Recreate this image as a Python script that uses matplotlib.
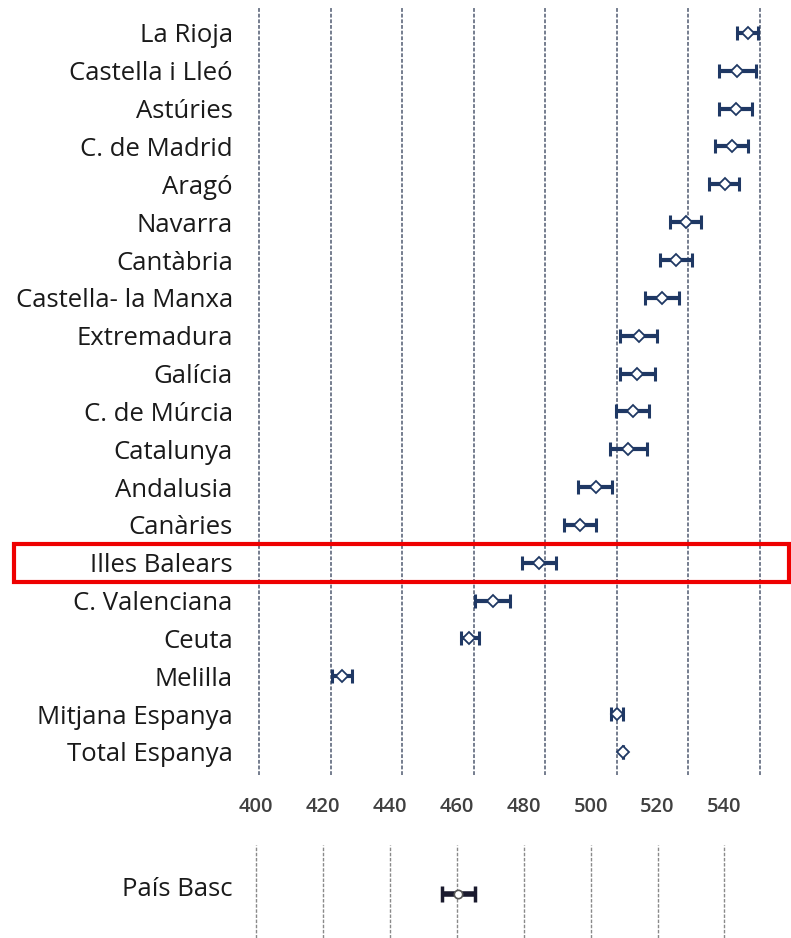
import matplotlib
matplotlib.use("Agg")
import matplotlib.pyplot as plt
from matplotlib.patches import Rectangle
from matplotlib.transforms import blended_transform_factory

regions = ["La Rioja", "Castella i Lleó", "Astúries", "C. de Madrid", "Aragó",
           "Navarra", "Cantàbria", "Castella- la Manxa", "Extremadura", "Galícia",
           "C. de Múrcia", "Catalunya", "Andalusia", "Canàries", "Illes Balears",
           "C. Valenciana", "Ceuta", "Melilla", "Mitjana Espanya", "Total Espanya"]
means = [536.7, 533.6, 533.3, 532.1, 530.1, 519.3, 516.5, 512.6, 506.2, 505.7,
         504.6, 503.2, 494.1, 489.7, 478.2, 465.3, 458.8, 423.1, 500.1, 501.8]
lower = [533.5, 528.5, 528.5, 527.4, 525.7, 514.9, 512.2, 507.8, 500.9, 500.9,
         499.9, 498.1, 489.2, 485.2, 473.4, 460.4, 456.4, 420.3, 498.5, 501.8]
upper = [539.5, 538.8, 537.8, 536.7, 534.2, 523.4, 520.9, 517.4, 511.3, 510.8,
         509.0, 508.5, 498.7, 494.2, 483.0, 470.1, 461.5, 426.1, 501.8, 501.8]
highlight = "Illes Balears"

basc_label = ["País Basc"]
basc_mean = [460.3]
basc_lower = [455.5]
basc_upper = [465.3]

xticks = [400, 420, 440, 460, 480, 500, 520, 540]

W, H = 791, 938
fig = plt.figure(figsize=(W / 100, H / 100), dpi=100)

def px_axes(left, top, right, bottom):
    return fig.add_axes([left / W, 1 - bottom / H, (right - left) / W, (bottom - top) / H])

navy = "#1f3864"
label_font = ["Open Sans", "DejaVu Sans"]
label_size = 18.5

# ---- main panel
ax = px_axes(237, 8, 790, 775)
ax.set_xlim(393.85, 548.4)
ax.set_ylim(19.61, -0.66)
ys = list(range(len(regions)))
for x in xticks:
    ax.axvline(x, color="#4f5a70", lw=1.1, ls=(0, (2.5, 1.2)), zorder=1)
xerr = [[m - l for m, l in zip(means, lower)], [u - m for m, u in zip(means, upper)]]
ax.errorbar(means, ys, xerr=xerr, fmt="none", ecolor=navy, elinewidth=3.0,
            capsize=5, capthick=2.2, zorder=2)
ax.plot(means, ys, ls="none", marker="D", ms=6, mfc="white", mec=navy, mew=1.3, zorder=3)
ax.set_yticks(ys)
ax.set_yticklabels(regions, fontsize=label_size, family=label_font, color="#1a1a1a",
                   fontweight="normal")
ax.tick_params(axis="y", length=0, pad=3)
ax.set_xticks([])
for s in ax.spines.values():
    s.set_visible(False)

hi = regions.index(highlight)
tr = blended_transform_factory(fig.transFigure, ax.transData)
fig.patches.append(Rectangle((14 / W, hi - 0.5), (789 - 14) / W, 1.0, transform=tr,
                             fill=False, ec="#ee0000", lw=3, zorder=10))

# ---- bottom panel
bx = px_axes(237, 845, 790, 938)
bx.set_xlim(394.3, 559.6)
bx.set_ylim(1, -1)
for x in xticks:
    bx.axvline(x, color="#8a8a8a", lw=1.0, ls=(0, (2.5, 1.2)), zorder=1)
berr = [[m - l for m, l in zip(basc_mean, basc_lower)], [u - m for m, u in zip(basc_mean, basc_upper)]]
bx.errorbar(basc_mean, [0.05], xerr=berr, fmt="none", ecolor="#1a1a2e", elinewidth=4,
            capsize=6, capthick=2.5, zorder=2)
bx.plot(basc_mean, [0.05], ls="none", marker="o", ms=6, mfc="white", mec="#555555", mew=1.2, zorder=3)
bx.set_yticks([-0.1])
bx.set_yticklabels(basc_label, fontsize=label_size, family=label_font, color="#1a1a1a",
                   fontweight="normal")
bx.tick_params(axis="y", length=0, pad=3)
bx.set_xticks(xticks)
bx.set_xticklabels([str(x) for x in xticks], fontsize=14.5, family=["Open Sans", "DejaVu Sans"],
                   color="#404040", fontweight="semibold")
bx.tick_params(axis="x", length=0, top=True, bottom=False, labeltop=True, labelbottom=False, pad=20)
for s in bx.spines.values():
    s.set_visible(False)

fig.savefig("out.png", dpi=100, facecolor="white")
